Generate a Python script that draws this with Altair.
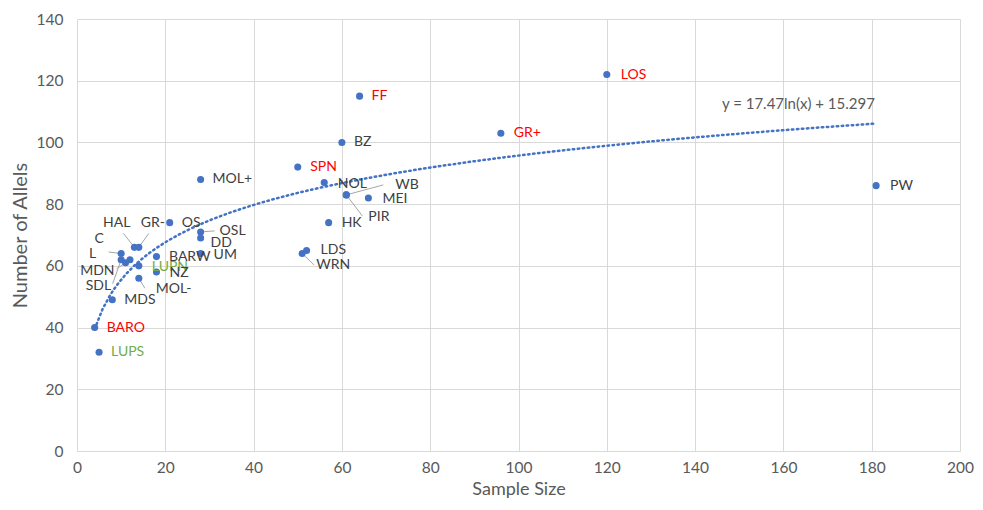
import altair as alt
import pandas as pd

# ---- data ----
names = ["LUPS", "BARO", "MDS", "SDL", "MDN", "L", "C", "HAL", "GR-", "OS",
         "OSL", "DD", "UM", "BARW", "LUPN", "NZ", "MOL-", "MOL+", "SPN", "BZ",
         "NOL", "WB", "PIR", "MEI", "HK", "LDS", "WRN", "FF", "LOS", "GR+", "PW"]
sample_size = [5, 4, 8, 10, 11, 10, 12, 13, 14, 21,
               28, 28, 28, 18, 14, 18, 14, 28, 50, 60,
               56, 61, 61, 66, 57, 52, 51, 64, 120, 96, 181]
alleles = [32, 40, 49, 62, 61, 64, 62, 66, 66, 74,
           71, 69, 64, 63, 60, 58, 56, 88, 92, 100,
           87, 83, 83, 82, 74, 65, 64, 115, 122, 103, 86]
groups = ["green", "red", "dark", "dark", "dark", "dark", "dark", "dark", "dark", "dark",
          "dark", "dark", "dark", "dark", "green", "dark", "dark", "dark", "red", "dark",
          "dark", "dark", "dark", "dark", "dark", "dark", "dark", "red", "red", "red", "dark"]
equation = "y = 17.47ln(x) + 15.297"

# ---- label layout (pixel offsets from each point; style, not data) ----
lab_dx = [12, 12, 12, -10, -11, -25, -26, -4, 2, 12,
          19, 10, 13, 12.5, 13, 13, 17, 12, 12.5, 12,
          13.5, 49, 22, 14, 13, 14, 14, 12, 14, 13, 14]
lab_dy = [0, 0, 0, 26, 8, 0, -21, -24, -24, 0,
          -1, 5, 1, 0, 1, 1, 11, 0, 0, 0,
          1, -10, 22, 1, 0, 0, 11.5, 0, 0, 0, 0]
lab_align = ["left", "left", "left", "right", "right", "right", "right", "right", "left", "left",
             "left", "left", "left", "left", "left", "left", "left", "left", "left", "left",
             "left", "left", "left", "left", "left", "left", "left", "left", "left", "left", "left"]
# leader line end offsets (pixels) for labels that have one
leaders = {"SDL": (-8.5, 24), "MDN": (-9, 6), "L": (-12.5, -1.5), "HAL": (-11, -14),
           "GR-": (10, -14), "OSL": (14, -1), "MOL-": (6, 10), "WB": (37, -10),
           "PIR": (16, 21), "WRN": (12, 11.5)}

W, H = 883, 432
XMAX, YMAX = 200, 140
PXX, PXY = W / XMAX, H / YMAX

df = pd.DataFrame({"name": names, "x": sample_size, "y": alleles, "grp": groups,
                   "dx": lab_dx, "dy": lab_dy, "align": lab_align})
df["lx"] = df["x"] + df["dx"] / PXX
df["ly"] = df["y"] - df["dy"] / PXY

lead_rows = []
for n, (ldx, ldy) in leaders.items():
    r = df[df["name"] == n].iloc[0]
    lead_rows.append({"x": r["x"], "y": r["y"], "x2": r["x"] + ldx / PXX, "y2": r["y"] - ldy / PXY})
lead_df = pd.DataFrame(lead_rows)

FONT = "Lato"
GRID = "#d9d9d9"
TXT = "#595959"
BLUE = "#4472C4"

xsc = alt.Scale(domain=[0, XMAX], nice=False, zero=True)
ysc = alt.Scale(domain=[0, YMAX], nice=False, zero=True)

base = alt.Chart(df)

points = base.mark_circle(size=50, opacity=1, color=BLUE).encode(
    x=alt.X("x:Q", scale=xsc,
            axis=alt.Axis(title="Sample Size", values=list(range(0, 201, 20)), grid=True,
                          gridColor=GRID, domainColor=GRID, tickSize=0, labelPadding=9,
                          labelFlush=False,
                          labelFontSize=15.5, labelColor=TXT, labelFont=FONT,
                          titleFont=FONT, titleFontSize=18, titleColor=TXT,
                          titleFontWeight="normal", titlePadding=5)),
    y=alt.Y("y:Q", scale=ysc,
            axis=alt.Axis(title="Number of Allels", values=list(range(0, 141, 20)), grid=True,
                          gridColor=GRID, domain=False, tickSize=0, labelPadding=14,
                          labelFlush=False,
                          labelFontSize=15.5, labelColor=TXT, labelFont=FONT,
                          titleFont=FONT, titleFontSize=20, titleColor=TXT,
                          titleFontWeight="normal", titlePadding=6)),
)

trend = base.transform_regression("x", "y", method="log", extent=[4, 181]).mark_line(
    color=BLUE, strokeWidth=2.5, strokeDash=[1.5, 3.5], strokeCap="round"
).encode(x=alt.X("x:Q", scale=xsc), y=alt.Y("y:Q", scale=ysc))

leader_lines = alt.Chart(lead_df).mark_rule(color="#a6a6a6", strokeWidth=1).encode(
    x=alt.X("x:Q", scale=xsc), y=alt.Y("y:Q", scale=ysc), x2="x2:Q", y2="y2:Q")

def labels(align):
    return base.transform_filter(alt.datum.align == align).mark_text(
        align=align, baseline="middle", font=FONT, fontSize=14).encode(
        x=alt.X("lx:Q", scale=xsc), y=alt.Y("ly:Q", scale=ysc), text="name:N",
        color=alt.Color("grp:N", scale=alt.Scale(domain=["dark", "red", "green"],
                                                range=["#404040", "#ff0000", "#70ad47"]),
                        legend=None))

eq = alt.Chart(pd.DataFrame({"t": [equation], "x": [163.4], "y": [112.4]})).mark_text(
    font=FONT, fontSize=15, color=TXT, align="center", baseline="middle").encode(
    x=alt.X("x:Q", scale=xsc), y=alt.Y("y:Q", scale=ysc), text="t:N")

chart = alt.layer(leader_lines, trend, points, labels("left"), labels("right"), eq).properties(
    width=W, height=H, autosize=alt.AutoSizeParams(type="none"),
    padding={"left": 69, "top": 11, "right": 15, "bottom": 51},
    background="white",
).configure_view(stroke=None)

chart.save("out.html", embed_options={"renderer": "svg", "actions": False})
